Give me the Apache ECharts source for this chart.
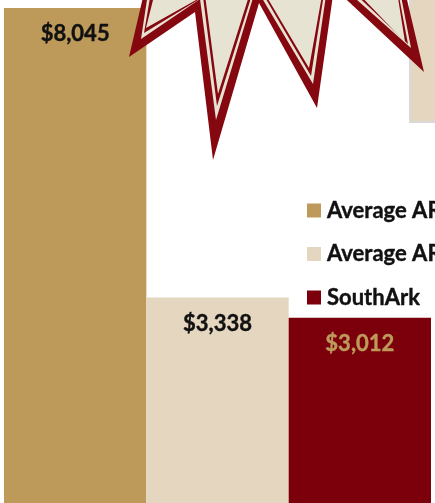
<!DOCTYPE html>
<html>
<head>
<meta charset="utf-8">
<style>
  html, body { margin: 0; padding: 0; background: #fff; overflow: hidden; }
  #main { width: 435px; height: 503px; }
</style>
<script src="https://cdn.jsdelivr.net/npm/echarts@6/dist/echarts.min.js"></script>
</head>
<body>
<div id="main"></div>
<script>
// series names are cut off by the right edge in the source picture
var names = ['Average AR', 'Average AR\u00a0', 'SouthArk'];
var values = [8045, 3338, 3012];
var barColors = ['#bd9a5a', '#e5d6c0', '#7b000c'];
var labelColors = ['#111111', '#111111', '#bd9a5a'];

// decoration: burst shape poking in from the top, outer layer first
var burstLayers = [
  { fill: '#85070f', points: [[147, -20], [129, 57], [195, 12], [213, 160], [259, 3], [317, 108], [334, -12], [424, 72], [400, -30]] },
  { fill: '#e7e3d3', points: [[150, -20], [141, 39], [200, -1], [216, 120], [256, -12], [313, 84], [329, -25], [411, 48], [396, -30]] },
  { fill: '#85070f', points: [[153, -20], [144, 33], [203, -3], [217, 106], [256, -18], [311, 76], [328, -32], [408, 44], [394, -30]] },
  { fill: '#e7e3d3', points: [[158, -20], [146, 28], [205, -5], [218, 94], [255, -23], [309, 68], [328, -38], [405, 42], [392, -40]] }
];

var chart = echarts.init(document.getElementById('main'));

var series = [];
for (let i = 0; i < values.length; i++) {
  series.push({
    name: names[i],
    type: 'bar',
    barGap: 0,
    barCategoryGap: 0,
    data: [values[i]],
    itemStyle: { color: barColors[i] },
    label: {
      show: true,
      position: 'insideTop',
      distance: 15,
      fontFamily: 'Lato',
      fontWeight: 'bold',
      fontSize: 22,
      color: labelColors[i],
      textBorderColor: labelColors[i],
      textBorderWidth: 0.4,
      formatter: function (p) {
        return '$' + p.value.toLocaleString('en-US');
      }
    }
  });
}

var graphic = [
  // box at the right edge
  {
    type: 'rect',
    z: 5,
    shape: { x: 410, y: -5, width: 40, height: 127 },
    style: { fill: '#e5d6c0', stroke: '#d9d9d9', lineWidth: 2 }
  }
];
burstLayers.forEach(function (layer) {
  graphic.push({
    type: 'polygon',
    z: 6,
    shape: { points: layer.points },
    style: { fill: layer.fill }
  });
});

var option = {
  animation: false,
  backgroundColor: '#ffffff',
  grid: { left: 4, width: 427, top: 8, bottom: -1 },
  legend: {
    orient: 'vertical',
    left: 302,
    top: 193,
    itemWidth: 14,
    itemHeight: 14,
    itemGap: 18.5,
    icon: 'rect',
    data: names,
    textStyle: {
      fontFamily: 'Lato',
      fontWeight: 'bold',
      fontSize: 22,
      color: '#111111',
      textBorderColor: '#111111',
      textBorderWidth: 0.4,
      lineHeight: 25,
      padding: [0, 0, 0, 1]
    }
  },
  xAxis: {
    type: 'category',
    data: [''],
    axisLine: { show: false },
    axisTick: { show: false },
    axisLabel: { show: false }
  },
  yAxis: {
    type: 'value',
    min: 0,
    max: 8045,
    show: false,
    splitLine: { show: false }
  },
  series: series,
  graphic: graphic
};

chart.setOption(option);
</script>
</body>
</html>
